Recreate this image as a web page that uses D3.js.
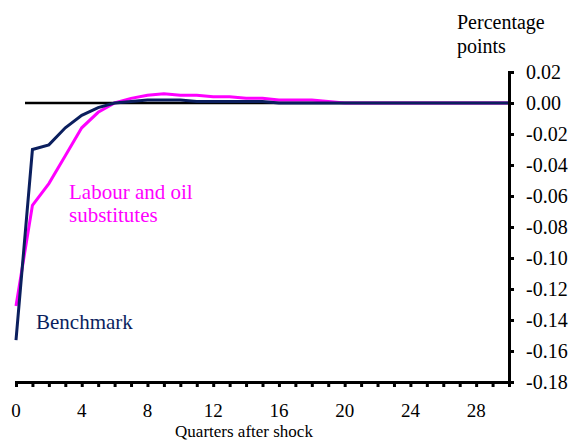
<!DOCTYPE html>
<html>
<head>
<meta charset="utf-8">
<script src="https://cdn.jsdelivr.net/npm/d3@7"></script>
<style>
  body { margin: 0; background: #fff; }
</style>
</head>
<body>
<div id="chart"></div>
<script>
let quarters = d3.range(0, 31);
let benchmark = [-0.153, -0.030, -0.027, -0.016, -0.008, -0.003, 0.000, 0.001, 0.002, 0.002,
  0.002, 0.001, 0.001, 0.001, 0.001, 0.001, 0.000, 0.000, 0.000, 0.000,
  0.000, 0.000, 0.000, 0.000, 0.000, 0.000, 0.000, 0.000, 0.000, 0.000, 0.000];
let labourOil = [-0.131, -0.066, -0.052, -0.034, -0.016, -0.006, 0.000, 0.003, 0.005, 0.006,
  0.005, 0.005, 0.004, 0.004, 0.003, 0.003, 0.002, 0.002, 0.002, 0.001,
  0.000, 0.000, 0.000, 0.000, 0.000, 0.000, 0.000, 0.000, 0.000, 0.000, 0.000];
let xLabels = [0, 4, 8, 12, 16, 20, 24, 28];
let yTicks = [0.02, 0.00, -0.02, -0.04, -0.06, -0.08, -0.10, -0.12, -0.14, -0.16, -0.18];

let width = 575, height = 441;
let serif = "Liberation Serif, DejaVu Serif, serif";
let x = d3.scaleLinear().domain([0, 30]).range([16, 509]);
let y = d3.scaleLinear().domain([-0.18, 0.02]).range([382, 72]);

let svg = d3.select("#chart").append("svg")
  .attr("width", width)
  .attr("height", height)
  .style("font-family", serif);

// zero line
svg.append("line")
  .attr("x1", 25).attr("x2", x(30))
  .attr("y1", y(0)).attr("y2", y(0))
  .attr("stroke", "#000").attr("stroke-width", 2.5);

let line = d3.line()
  .x((d, i) => x(quarters[i]))
  .y(d => y(d));

svg.append("path")
  .datum(labourOil)
  .attr("fill", "none")
  .attr("stroke", "#ff00ff")
  .attr("stroke-width", 3)
  .attr("d", line);

svg.append("path")
  .datum(benchmark)
  .attr("fill", "none")
  .attr("stroke", "#0b1f5e")
  .attr("stroke-width", 3)
  .attr("d", line);

// x axis
let xAxis = svg.append("g")
  .attr("transform", "translate(0," + y(-0.18) + ")")
  .call(d3.axisBottom(x).tickValues(quarters).tickSize(5).tickFormat(""));
xAxis.select(".domain").attr("stroke", "#000").attr("stroke-width", 3);
xAxis.selectAll(".tick line").attr("stroke-width", 3);

svg.selectAll(".xlab")
  .data(xLabels)
  .enter().append("text")
  .attr("class", "xlab")
  .attr("x", d => x(d))
  .attr("y", 417)
  .attr("text-anchor", "middle")
  .style("font-family", serif)
  .attr("font-size", 19)
  .text(d => d);

svg.append("text")
  .attr("x", 244).attr("y", 437)
  .attr("text-anchor", "middle")
  .style("font-family", serif)
  .attr("font-size", 17)
  .text("Quarters after shock");

// y axis on right
let yAxis = svg.append("g")
  .attr("transform", "translate(" + x(30) + ",0)")
  .call(d3.axisRight(y).tickValues(yTicks).tickSize(5).tickFormat(""));
yAxis.select(".domain").attr("stroke", "#000").attr("stroke-width", 3);
yAxis.selectAll(".tick line").attr("stroke-width", 3);

svg.selectAll(".ylab")
  .data(yTicks)
  .enter().append("text")
  .attr("class", "ylab")
  .attr("x", 526)
  .attr("y", d => y(d) + 7)
  .style("font-family", serif)
  .attr("font-size", 20)
  .text(d => d3.format(".2f")(d).replace("−", "-"));

svg.append("text").attr("x", 457).attr("y", 29).attr("font-size", 20)
  .style("font-family", serif).text("Percentage");
svg.append("text").attr("x", 457).attr("y", 53).attr("font-size", 20)
  .style("font-family", serif).text("points");

// series labels
svg.append("text").attr("x", 69).attr("y", 199).attr("font-size", 21)
  .style("font-family", serif).attr("fill", "#ff00ff").text("Labour and oil");
svg.append("text").attr("x", 69).attr("y", 222).attr("font-size", 21)
  .style("font-family", serif).attr("fill", "#ff00ff").text("substitutes");
svg.append("text").attr("x", 36).attr("y", 329).attr("font-size", 21)
  .style("font-family", serif).attr("fill", "#0b1f5e").text("Benchmark");
</script>
</body>
</html>
